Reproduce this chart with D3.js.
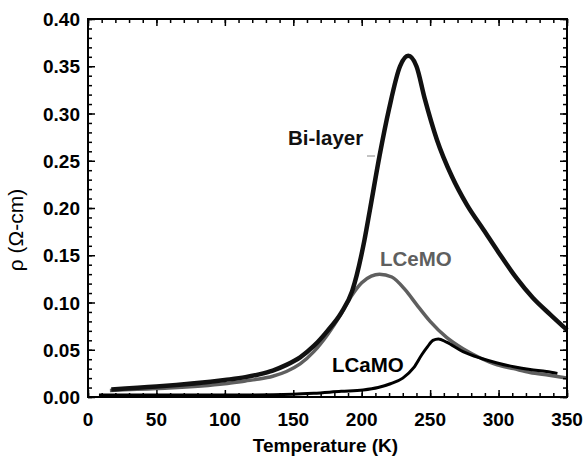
<!DOCTYPE html>
<html>
<head>
<meta charset="utf-8">
<script src="https://cdn.jsdelivr.net/npm/d3@7"></script>
<style>
  body { margin: 0; background: #fff; }
  svg { font-family: "Liberation Sans", Arial, sans-serif; }
</style>
</head>
<body>
<svg width="585" height="461"></svg>
<script>
// data (T in K, rho in ohm-cm)
const bilayerT   = [17, 50, 100, 115, 125, 135, 145, 155, 165, 175, 185, 193, 202, 206, 213, 220, 228, 234, 240, 246, 255, 266, 277, 289, 300, 313, 325, 338, 350];
const bilayerRho = [0.008, 0.011, 0.018, 0.021, 0.024, 0.028, 0.034, 0.042, 0.054, 0.070, 0.089, 0.112, 0.166, 0.198, 0.255, 0.305, 0.350, 0.361, 0.350, 0.316, 0.272, 0.233, 0.203, 0.177, 0.153, 0.126, 0.105, 0.087, 0.071];

const lcemoT   = [16, 50, 100, 115, 125, 135, 145, 155, 165, 175, 185, 193, 200, 207, 213, 222, 232, 240, 250, 262, 274, 287, 299, 311, 323, 337, 350];
const lcemoRho = [0.007, 0.009, 0.014, 0.017, 0.019, 0.022, 0.027, 0.035, 0.048, 0.066, 0.088, 0.108, 0.121, 0.128, 0.130, 0.127, 0.113, 0.098, 0.080, 0.063, 0.051, 0.041, 0.034, 0.030, 0.026, 0.023, 0.020];

const lcamoT   = [8, 50, 100, 150, 165, 185, 201, 212, 221, 230, 238, 244, 248, 252, 256, 262, 274, 287, 299, 311, 323, 335, 343];
const lcamoRho = [0.002, 0.002, 0.002, 0.003, 0.004, 0.006, 0.0074, 0.010, 0.014, 0.020, 0.031, 0.045, 0.053, 0.060, 0.0615, 0.058, 0.048, 0.041, 0.036, 0.032, 0.029, 0.027, 0.025];

const xTicks = [0, 50, 100, 150, 200, 250, 300, 350];
const yTicks = [0, 0.05, 0.10, 0.15, 0.20, 0.25, 0.30, 0.35, 0.40];

const svg = d3.select("svg");
const mL = 88, mR = 567, mT = 19, mB = 397;

const x = d3.scaleLinear().domain([0, 350]).range([mL, mR]);
const y = d3.scaleLinear().domain([0, 0.40]).range([mB, mT]);

const line = d3.line()
  .x(d => x(d[0]))
  .y(d => y(d[1]))
  .curve(d3.curveMonotoneX);

const zip = (a, b) => a.map((v, i) => [v, b[i]]);

// curves
svg.append("path")
  .datum(zip(lcemoT, lcemoRho))
  .attr("d", line)
  .attr("fill", "none")
  .attr("stroke", "#5f5f5f")
  .attr("stroke-width", 3.5);

svg.append("path")
  .datum(zip(bilayerT, bilayerRho))
  .attr("d", line)
  .attr("fill", "none")
  .attr("stroke", "#111")
  .attr("stroke-width", 4.5);

svg.append("path")
  .datum(zip(lcamoT, lcamoRho))
  .attr("d", line)
  .attr("fill", "none")
  .attr("stroke", "#000")
  .attr("stroke-width", 3);

// frame
svg.append("rect")
  .attr("x", mL).attr("y", mT)
  .attr("width", mR - mL).attr("height", mB - mT)
  .attr("fill", "none")
  .attr("stroke", "#000")
  .attr("stroke-width", 2);

// ticks on all four sides, pointing inward
const xMinor = d3.range(0, 351, 10);
const yMinor = d3.range(0, 41, 1).map(d => d / 100);

const addTicks = (axis, tr) => {
  svg.append("g").attr("transform", tr)
    .call(axis)
    .call(g => g.select(".domain").remove())
    .selectAll("line").attr("stroke", "#000").attr("stroke-width", 1.5);
};

addTicks(d3.axisBottom(x).tickValues(xMinor).tickSize(-4).tickFormat(""), `translate(0,${mB})`);
addTicks(d3.axisTop(x).tickValues(xMinor).tickSize(-4).tickFormat(""), `translate(0,${mT})`);
addTicks(d3.axisLeft(y).tickValues(yMinor).tickSize(-4).tickFormat(""), `translate(${mL},0)`);
addTicks(d3.axisRight(y).tickValues(yMinor).tickSize(-4).tickFormat(""), `translate(${mR},0)`);

addTicks(d3.axisBottom(x).tickValues(xTicks).tickSize(-7).tickFormat(""), `translate(0,${mB})`);
addTicks(d3.axisTop(x).tickValues(xTicks).tickSize(-7).tickFormat(""), `translate(0,${mT})`);
addTicks(d3.axisLeft(y).tickValues(yTicks).tickSize(-7).tickFormat(""), `translate(${mL},0)`);
addTicks(d3.axisRight(y).tickValues(yTicks).tickSize(-7).tickFormat(""), `translate(${mR},0)`);

// tick labels
svg.append("g").selectAll("text")
  .data(xTicks).enter().append("text")
  .attr("x", d => x(d))
  .attr("y", 426)
  .attr("text-anchor", "middle")
  .attr("font-size", 19)
  .attr("font-weight", "bold")
  .text(d => d);

svg.append("g").selectAll("text")
  .data(yTicks).enter().append("text")
  .attr("x", 80)
  .attr("y", d => y(d) + 7)
  .attr("text-anchor", "end")
  .attr("font-size", 19)
  .attr("font-weight", "bold")
  .text(d => d3.format(".2f")(d));

// axis titles
svg.append("text")
  .attr("x", (mL + mR) / 2 - 2)
  .attr("y", 452)
  .attr("text-anchor", "middle")
  .attr("font-size", 19)
  .attr("font-weight", "bold")
  .text("Temperature (K)");

svg.append("text")
  .attr("transform", "translate(23,230) rotate(-90)")
  .attr("text-anchor", "middle")
  .attr("font-size", 21)
  .text("ρ (Ω-cm)");

// curve labels
svg.append("text").attr("x", 288).attr("y", 145)
  .attr("font-size", 20.5).attr("font-weight", "bold").attr("fill", "#111")
  .text("Bi-layer");
svg.append("line")
  .attr("x1", 367).attr("x2", 375).attr("y1", 156).attr("y2", 156)
  .attr("stroke", "#888").attr("stroke-width", 1);
svg.append("text").attr("x", 380).attr("y", 266)
  .attr("font-size", 20.5).attr("font-weight", "bold").attr("fill", "#5f5f5f")
  .text("LCeMO");
svg.append("text").attr("x", 332).attr("y", 372)
  .attr("font-size", 20.5).attr("font-weight", "bold").attr("fill", "#000")
  .text("LCaMO");
</script>
</body>
</html>
